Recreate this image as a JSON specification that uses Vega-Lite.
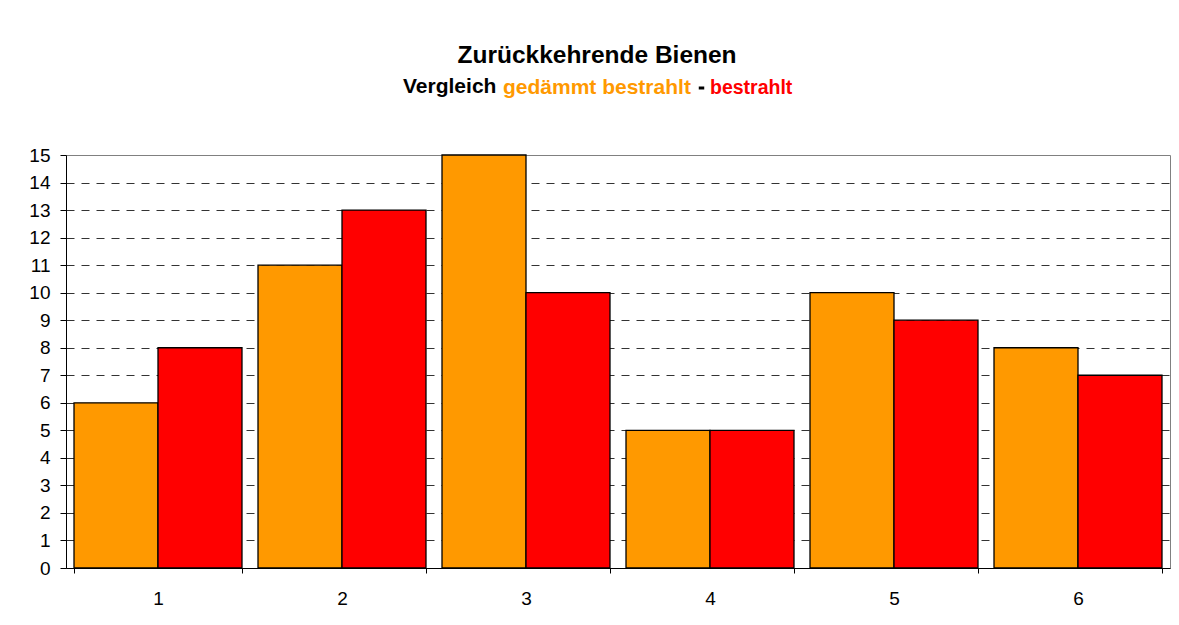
{
  "$schema": "https://vega.github.io/schema/vega-lite/v6.json",
  "width": 1104,
  "height": 413,
  "autosize": {"type": "none"},
  "padding": {"left": 66, "top": 155, "right": 9, "bottom": 57},
  "background": "white",
  "title": {
    "text": "Zurückkehrende Bienen",
    "fontSize": 24.5,
    "fontWeight": "bold",
    "color": "black",
    "anchor": "middle",
    "dx": -21,
    "offset": 9
  },
  "data": {
    "values": [
      {"Versuch": "1", "Gruppe": "gedämmt bestrahlt", "Bienen": 6},
      {"Versuch": "1", "Gruppe": "bestrahlt", "Bienen": 8},
      {"Versuch": "2", "Gruppe": "gedämmt bestrahlt", "Bienen": 11},
      {"Versuch": "2", "Gruppe": "bestrahlt", "Bienen": 13},
      {"Versuch": "3", "Gruppe": "gedämmt bestrahlt", "Bienen": 15},
      {"Versuch": "3", "Gruppe": "bestrahlt", "Bienen": 10},
      {"Versuch": "4", "Gruppe": "gedämmt bestrahlt", "Bienen": 5},
      {"Versuch": "4", "Gruppe": "bestrahlt", "Bienen": 5},
      {"Versuch": "5", "Gruppe": "gedämmt bestrahlt", "Bienen": 10},
      {"Versuch": "5", "Gruppe": "bestrahlt", "Bienen": 9},
      {"Versuch": "6", "Gruppe": "gedämmt bestrahlt", "Bienen": 8},
      {"Versuch": "6", "Gruppe": "bestrahlt", "Bienen": 7}
    ]
  },
  "mark": {"type": "bar", "stroke": "black", "strokeWidth": 1.3},
  "encoding": {
    "x": {
      "field": "Versuch",
      "type": "ordinal",
      "scale": {"paddingInner": 0.087, "paddingOuter": 0.0435},
      "axis": {
        "title": null,
        "labelAngle": 0,
        "labelFontSize": 19,
        "labelColor": "black",
        "labelPadding": 16,
        "tickBand": "extent",
        "tickSize": 5,
        "tickColor": "black",
        "domainColor": "black",
        "grid": false
      }
    },
    "xOffset": {"field": "Gruppe", "sort": ["gedämmt bestrahlt", "bestrahlt"]},
    "y": {
      "field": "Bienen",
      "type": "quantitative",
      "scale": {"domain": [0, 15], "nice": false},
      "axis": {
        "title": null,
        "values": [0, 1, 2, 3, 4, 5, 6, 7, 8, 9, 10, 11, 12, 13, 14, 15],
        "labelFontSize": 19,
        "labelColor": "black",
        "labelPadding": 10,
        "tickSize": 6,
        "tickColor": "black",
        "domainColor": "black",
        "grid": true,
        "gridColor": "#333333",
        "gridDash": [8, 7],
        "gridOpacity": {"condition": {"test": "datum.value == 0 || datum.value == 15", "value": 0}, "value": 1}
      }
    },
    "color": {
      "field": "Gruppe",
      "type": "nominal",
      "scale": {"domain": ["gedämmt bestrahlt", "bestrahlt"], "range": ["#FF9900", "#FF0000"]},
      "legend": {
        "orient": "none",
        "legendX": 337,
        "legendY": -78,
        "direction": "horizontal",
        "title": "Vergleich",
        "titleOrient": "left",
        "titleFontSize": 21,
        "titleFontWeight": "bold",
        "titleColor": "black",
        "titlePadding": -13,
        "labelFontSize": 21,
        "labelFontWeight": "bold",
        "labelOffset": -2,
        "labelLimit": 400,
        "symbolType": "stroke",
        "symbolSize": 30,
        "symbolStrokeWidth": 3,
        "symbolStrokeColor": "black",
        "columnPadding": -2,
        "encode": {
          "labels": {
            "update": {
              "fill": {"signal": "datum.value === 'bestrahlt' ? '#FF0000' : '#FF9900'"},
              "fontSize": {"signal": "datum.value === 'bestrahlt' ? 19.5 : 21"}
            }
          },
          "symbols": {
            "update": {
              "stroke": {"value": "black"},
              "opacity": {"signal": "datum.value === 'bestrahlt' ? 1 : 0"}
            }
          }
        }
      }
    }
  },
  "config": {
    "font": "Liberation Sans",
    "view": {"stroke": "#808080", "strokeWidth": 1}
  }
}
